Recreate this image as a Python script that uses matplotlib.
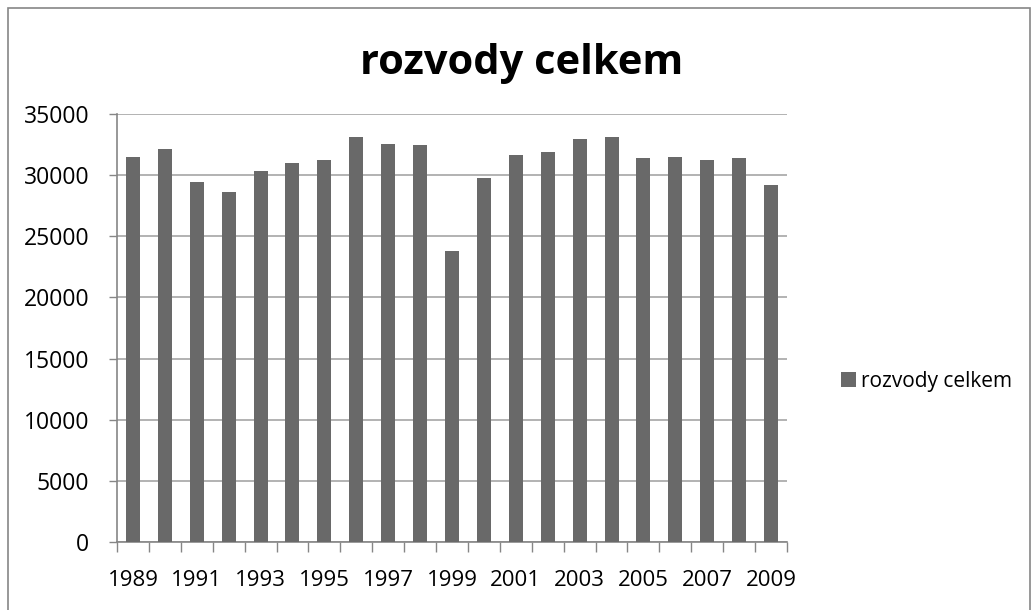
import matplotlib
matplotlib.use("Agg")
import matplotlib.pyplot as plt
from matplotlib.patches import Rectangle

years = list(range(1989, 2010))
values = [31470, 32130, 29450, 28600, 30330, 30980, 31230, 33115, 32540, 32460,
          23830, 29750, 31640, 31890, 32950, 33115, 31390, 31475, 31230, 31390, 29180]
tick_labels = [str(y) for y in years]
series_name = "rozvody celkem"
title = "rozvody celkem"

plt.rcParams['font.family'] = ['Open Sans', 'DejaVu Sans']

W, H = 1031, 610
fig = plt.figure(figsize=(W / 100, H / 100), dpi=100)
ax = fig.add_axes([117 / W, 1 - 542 / H, (787 - 117) / W, (542 - 114) / H])

x = list(range(len(years)))
bars = ax.bar(x, values, width=0.44, color='#696969', label=series_name, zorder=3)

ax.set_xlim(-0.5, len(years) - 0.5)
ax.set_ylim(0, 35000)
ax.set_yticks(range(0, 35001, 5000))
ax.yaxis.grid(True, color='#a6a6a6', linewidth=1.2, zorder=0)
ax.set_axisbelow(True)

# category ticks at boundaries, labels every other year
ax.set_xticks([i - 0.5 for i in range(len(years) + 1)], minor=False)
ax.set_xticklabels([''] * (len(years) + 1))
ax.set_xticks(x[::2], minor=True)
ax.set_xticklabels(tick_labels[::2], minor=True)
ax.tick_params(axis='x', which='major', length=7, color='#868686', width=1)
ax.tick_params(axis='x', which='minor', length=0, pad=20, labelsize=16)
ax.tick_params(axis='y', length=6, color='#868686', width=1, labelsize=16.5, pad=14)

for s in ['top', 'right']:
    ax.spines[s].set_visible(False)
for s in ['left', 'bottom']:
    ax.spines[s].set_color('#868686')
    ax.spines[s].set_linewidth(1.2)

fig.text(522 / W, 1 - 64 / H, title, ha='center', va='center', fontsize=30,
         fontweight='bold')

leg = fig.legend(handles=[bars], labels=[series_name], loc='center left',
                 bbox_to_anchor=(822 / W, 1 - 381 / H), frameon=False,
                 fontsize=15, handlelength=0.75, handleheight=0.75, handletextpad=0.2)

fig.patches.append(Rectangle((8 / W, -0.1), (1030 - 8) / W, 1.1 - 8 / H,
                             transform=fig.transFigure, fill=False,
                             edgecolor='#868686', linewidth=1.2))

fig.savefig('out.png', dpi=100)
